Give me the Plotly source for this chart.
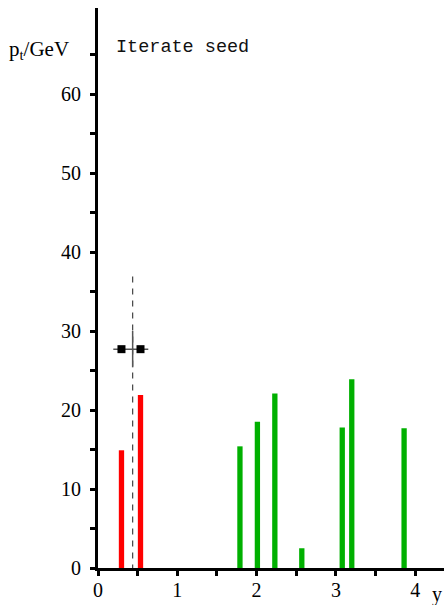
import plotly.graph_objects as go

# ---- data ----
red_y = [0.296, 0.536]
red_pt = [14.9, 21.9]
green_y = [1.79, 2.01, 2.23, 2.57, 3.08, 3.20, 3.86]
green_pt = [15.4, 18.5, 22.1, 2.5, 17.8, 23.9, 17.7]
seed_y = 0.437
seed_pt = 27.7
seed_line = [36.9, 0.0]
cross_h = [0.193, 0.634]
cross_v = [25.4, 30.0]
x_ticks = [0, 1, 2, 3, 4]
x_minor = [0.5, 1.5, 2.5, 3.5]
y_ticks = [0, 10, 20, 30, 40, 50, 60]
y_minor = [5, 15, 25, 35, 45, 55, 65]

W, H = 444, 605
L, R, T, B = 98, 0, 8, 37
PX_X = 79.3   # px per unit in y(rapidity)
PX_Y = 7.9    # px per GeV
xmax = (W - L - R) / PX_X
ymax = (H - T - B) / PX_Y
pw, ph = W - L - R, H - T - B


def px(xp):
    return (xp - L) / pw


def py(yp):
    return (H - B - yp) / ph


BAR_W = 0.067
SERIF = "Liberation Serif"

fig = go.Figure()
fig.add_trace(go.Bar(x=red_y, y=red_pt, width=BAR_W, marker=dict(color="#ff0000", line=dict(width=0))))
fig.add_trace(go.Bar(x=green_y, y=green_pt, width=BAR_W, marker=dict(color="#00b000", line=dict(width=0))))
fig.add_trace(go.Scatter(x=[seed_y, seed_y], y=seed_line, mode="lines",
                         line=dict(color="#444444", width=1.2, dash="6px,6px")))
fig.add_trace(go.Scatter(x=cross_h, y=[seed_pt, seed_pt], mode="lines",
                         line=dict(color="#555555", width=1.5)))
fig.add_trace(go.Scatter(x=[seed_y, seed_y], y=cross_v, mode="lines",
                         line=dict(color="#555555", width=1.5)))
fig.add_trace(go.Scatter(x=red_y, y=[seed_pt, seed_pt], mode="markers",
                         marker=dict(symbol="square", size=8, color="black", line=dict(width=0))))

tickfont = dict(family=SERIF, size=20, color="black", weight=400, style="normal")
common = dict(showline=True, linewidth=3, linecolor="black", ticks="outside", ticklen=5,
              tickwidth=3, tickcolor="black", showgrid=False, zeroline=False,
              tickfont=tickfont, tickmode="array")

fig.update_xaxes(range=[0, xmax], tickvals=x_ticks, ticktext=[str(v) for v in x_ticks],
                 minor=dict(tickmode="array", tickvals=x_minor, ticks="outside", ticklen=5,
                            tickwidth=3, tickcolor="black", showgrid=False),
                 ticklabelstandoff=-3, **common)
fig.update_yaxes(range=[0, ymax], tickvals=y_ticks, ticktext=[str(v) for v in y_ticks],
                 minor=dict(tickmode="array", tickvals=y_minor, ticks="outside", ticklen=5,
                            tickwidth=3, tickcolor="black", showgrid=False),
                 ticklabelstandoff=5, **common)

fig.add_annotation(xref="paper", yref="paper", x=px(7), y=py(50), xanchor="left", yanchor="middle",
                   text="p<sub>t</sub>/GeV", showarrow=False,
                   font=dict(family=SERIF, size=21, color="black"))
fig.add_annotation(xref="paper", yref="paper", x=px(114), y=py(48), xanchor="left", yanchor="middle",
                   text="Iterate seed", showarrow=False,
                   font=dict(family="Liberation Mono", size=18.5, color="#111111", weight=400))
fig.add_annotation(xref="paper", yref="paper", x=px(437), y=py(594), xanchor="center", yanchor="middle",
                   text="y", showarrow=False,
                   font=dict(family=SERIF, size=20, color="black"))

fig.update_layout(width=W, height=H, margin=dict(l=L, r=R, t=T, b=B, autoexpand=False),
                  font=dict(family=SERIF, size=20, color="black"),
                  paper_bgcolor="white", plot_bgcolor="white", showlegend=False,
                  barmode="overlay")

fig.write_html("out.html")
